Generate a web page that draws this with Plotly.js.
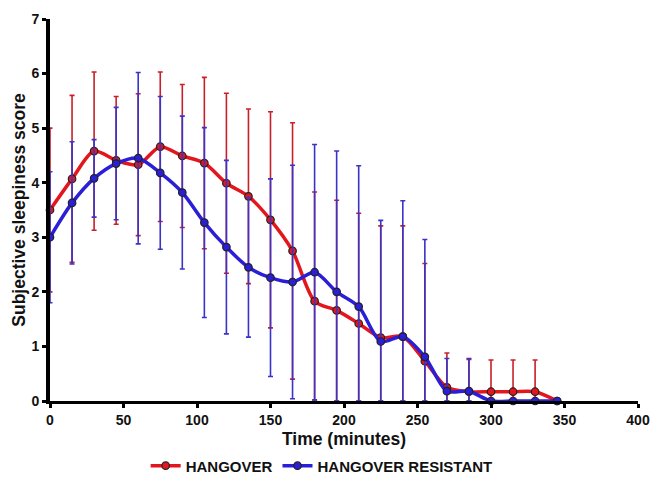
<!DOCTYPE html>
<html>
<head>
<meta charset="utf-8">
<script src="https://cdn.plot.ly/plotly-3.0.1.min.js"></script>
<style>html,body{margin:0;padding:0;background:#fff;}#chart{width:651px;height:479px;}</style>
</head>
<body>
<div id="chart"></div>
<script>
const time = [0,15,30,45,60,75,90,105,120,135,150,165,180,195,210,225,240,255,270,285,300,315,330,345];
const hangover = [3.50,4.07,4.58,4.41,4.33,4.66,4.49,4.36,3.99,3.75,3.32,2.75,1.83,1.66,1.42,1.16,1.18,0.73,0.25,0.17,0.17,0.17,0.17,0];
const hangoverSD = [1.50,1.53,1.45,1.17,1.30,1.37,1.31,1.57,1.65,1.60,1.98,2.35,2.00,2.02,2.02,2.05,2.03,1.79,0.63,0.59,0.58,0.58,0.58,0];
const resistant = [3.00,3.63,4.08,4.35,4.45,4.18,3.82,3.27,2.82,2.45,2.26,2.18,2.36,2.00,1.73,1.09,1.18,0.81,0.18,0.18,0,0,0,0];
const resistantSD = [1.20,1.12,0.71,1.03,1.57,1.40,1.40,1.74,1.59,1.28,1.81,2.14,2.34,2.58,2.58,2.22,2.49,2.15,0.60,0.60,0,0,0,0];
const xTicks = [0,50,100,150,200,250,300,350,400];
const yTicks = [0,1,2,3,4,5,6,7];

const FONT = '"Liberation Sans", Arial, sans-serif';

function trace(name, y, sd, lineColor, errColor) {
  return {
    x: time, y: y, name: name, type: 'scatter', mode: 'lines+markers',
    cliponaxis: false,
    line: {color: lineColor, width: 3.5, shape: 'spline', smoothing: 0.8},
    marker: {color: lineColor, size: 7.5, line: {color: '#222', width: 1.2}},
    error_y: {type: 'data', symmetric: false, array: sd,
      arrayminus: sd.map((s, i) => Math.min(s, y[i])),
      color: errColor, thickness: 1.6, width: 2.5}
  };
}

const data = [
  trace('HANGOVER', hangover, hangoverSD, '#e3161d', '#c8202a'),
  trace('HANGOVER RESISTANT', resistant, resistantSD, '#2a1fd6', '#3a33c8')
];

const layout = {
  width: 651, height: 479,
  margin: {l: 50, r: 13, t: 19, b: 78, autoexpand: false},
  paper_bgcolor: '#fff', plot_bgcolor: '#fff',
  font: {family: FONT, color: '#111'},
  showlegend: true,
  legend: {orientation: 'h', x: 0.462, xanchor: 'center', y: -0.17, yanchor: 'middle',
    font: {family: FONT, size: 15, color: '#111', weight: 'bold'}, itemwidth: 30, tracegroupgap: 0},
  xaxis: {
    range: [0, 400], tickvals: xTicks, ticktext: xTicks.map(String),
    showgrid: false, zeroline: false, showline: true, linecolor: '#000', linewidth: 3,
    ticks: 'outside', ticklen: 4, tickwidth: 3, tickcolor: '#000',
    tickfont: {family: FONT, size: 14, color: '#111', weight: 'bold'},
    title: {text: 'Time (minutes)', font: {family: FONT, size: 17.5, color: '#111', weight: 'bold'}, standoff: 6}
  },
  yaxis: {
    range: [0, 7], tickvals: yTicks, ticktext: yTicks.map(String),
    showgrid: false, zeroline: false, showline: true, linecolor: '#000', linewidth: 4,
    ticks: 'outside', ticklen: 4, tickwidth: 3, tickcolor: '#000',
    tickfont: {family: FONT, size: 14, color: '#111', weight: 'bold'},
    title: {text: 'Subjective sleepiness score', font: {family: FONT, size: 17.5, color: '#111', weight: 'bold'}, standoff: 2}
  }
};

Plotly.newPlot('chart', data, layout, {displayModeBar: false, responsive: false});
</script>
</body>
</html>
